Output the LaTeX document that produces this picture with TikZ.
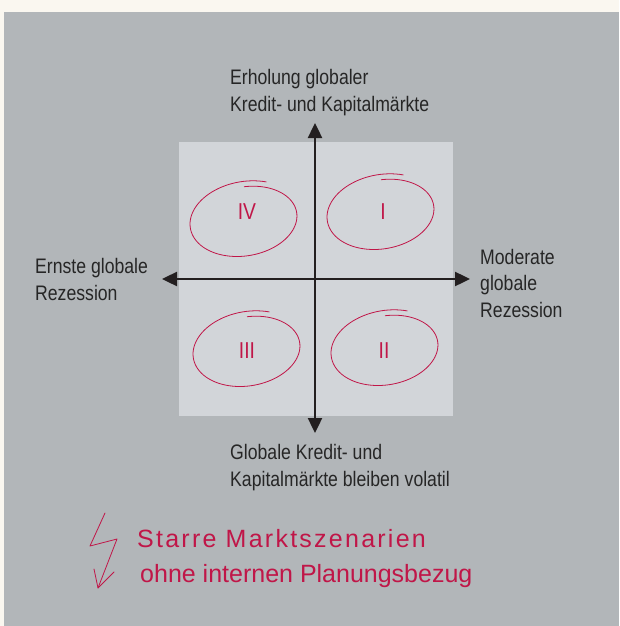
\documentclass[tikz,border=0pt]{standalone}
\usepackage{fontspec}
\setmainfont{Liberation Sans}[FakeStretch=0.84]
\newfontfamily\handfont{Liberation Sans}
\usetikzlibrary{arrows.meta}
\definecolor{cream}{RGB}{250,247,240}
\definecolor{panel}{RGB}{178,182,185}
\definecolor{field}{RGB}{210,213,217}
\definecolor{axisgray}{RGB}{35,31,32}
\definecolor{inkred}{RGB}{192,22,72}
\tikzset{
  axisline/.style={line width=2.4pt,draw=axisgray,
    {Triangle[length=15pt,width=14pt]}-{Triangle[length=15pt,width=14pt]}},
  caption/.style={anchor=base west,align=left,inner sep=0pt,text=black!85,
    font=\fontsize{21}{26.5}\selectfont},
  numeral/.style={inner sep=0pt,text=inkred,font=\fontsize{23}{23}\selectfont},
  scribble/.style={draw=inkred,line width=0.8pt,line cap=round,line join=round},
  handnote/.style={anchor=base west,inner sep=0pt,text=inkred,
    font=\handfont\fontsize{25}{25}\selectfont}
}
\begin{document}
\begin{tikzpicture}[x=1pt,y=-1pt]
  \useasboundingbox (0,0) rectangle (619,626);
  \fill[cream] (0,0) rectangle (619,626);
  \fill[panel] (4,12) rectangle (619,626);
  \fill[field] (179,142) rectangle (453,416);

  % axes
  \coordinate (north) at (315,123);
  \coordinate (south) at (315,433);
  \coordinate (west) at (162,279);
  \coordinate (east) at (470,279);
  \draw[axisline] (south) -- (north);
  \draw[axisline] (west) -- (east);

  % axis captions (base = last line)
  \node[caption] (up) at (230,111) {Erholung globaler\\Kredit- und Kapitalmärkte};
  \node[caption] (down) at (230,486) {Globale Kredit- und\\Kapitalmärkte bleiben volatil};
  \node[caption] (left) at (35,300) {Ernste globale\\Rezession};
  \node[caption] (right) at (480,317) {Moderate\\globale\\Rezession};

  % quadrants
  \node[numeral] (q1) at (383,212) {I};
  \node[numeral] (q2) at (384,351) {II};
  \node[numeral] (q3) at (247,351) {III};
  \node[numeral] (q4) at (247,212) {IV};
  \foreach \cx/\cy in {382/213, 386/349, 248/350, 245/220}
    \draw[scribble,shift={(\cx,\cy)},rotate=9]
      plot[domain=62:445,samples=100,smooth]
      ({54*(1.06-0.12*(\x-62)/383)*cos(\x)},{-36*(1.08-0.16*(\x-62)/383)*sin(\x)});

  % note
  \coordinate (z1) at (105,513);
  \coordinate (z2) at (90,546);
  \coordinate (z3) at (117,539);
  \coordinate (z4) at (98,588);
  \coordinate (w1) at (94,569);
  \coordinate (w2) at (114,572);
  \draw[scribble] (z1) -- (z2) -- (z3) -- (z4);
  \draw[scribble] (w1) -- (z4) -- (w2);
  \node[handnote] (note1) at (137,547) {\addfontfeature{LetterSpace=9}Starre Marktszenarien};
  \node[handnote] (note2) at (140,582) {ohne internen Planungsbezug};
\end{tikzpicture}
\end{document}
